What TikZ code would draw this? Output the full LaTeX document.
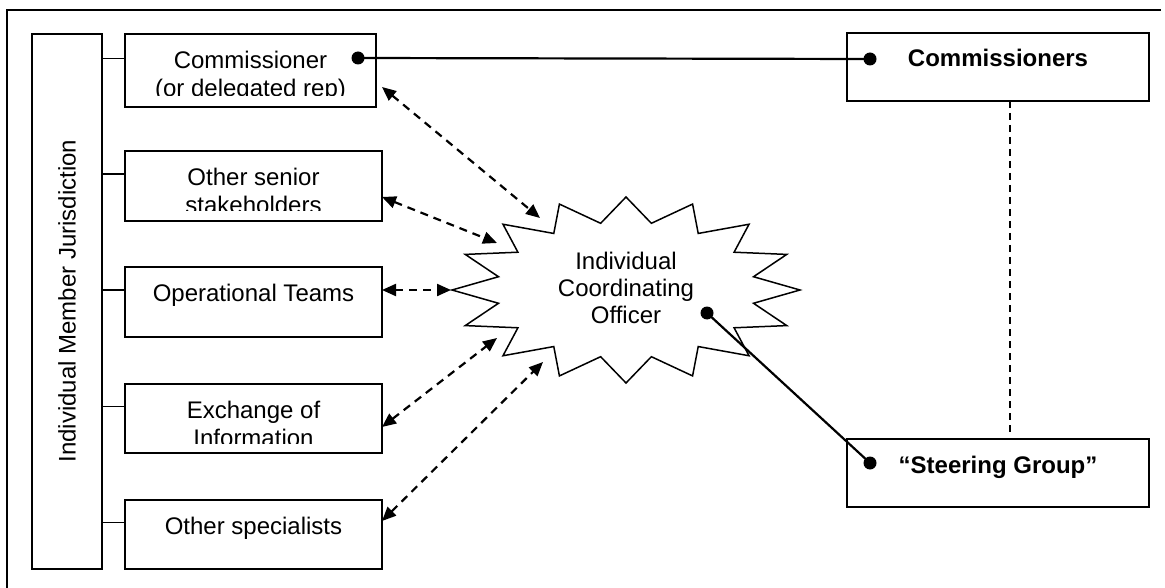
\documentclass[tikz,border=0pt]{standalone}
\usepackage{fontspec}
\setmainfont{Liberation Sans}
\usetikzlibrary{arrows.meta,calc}
\begin{document}
\begin{tikzpicture}[x=1pt,y=-1pt,
  box/.style={draw,line width=1.4pt,inner sep=0pt,outer sep=0pt,anchor=north west},
  lbl/.style={font=\fontsize{24}{28}\selectfont,align=center,inner sep=0pt,anchor=north},
  blbl/.style={font=\fontsize{24}{28}\selectfont\bfseries,inner sep=0pt,anchor=base},
  stub/.style={line width=1.4pt},
  dot/.style={circle,fill=black,inner sep=0pt,minimum size=13pt},
  solidc/.style={line width=2.2pt},
  dasharrow/.style={line width=2.2pt,dash pattern=on 8pt off 6pt,
    {Triangle[length=14pt,width=12pt]}-{Triangle[length=14pt,width=12pt]}},
  vdash/.style={line width=1.4pt,dash pattern=on 7pt off 5pt},
  starline/.style={line width=1.5pt,fill=white}]
\useasboundingbox (0,0) rectangle (1165,588);

% outer frame (top and left)
\coordinate (f1) at (7,588);
\coordinate (f2) at (7,10);
\coordinate (f3) at (1161,10);
\draw[line width=1.5pt] (f1) -- (f2) -- (f3);

% vertical bar
\node[box,minimum width=70pt,minimum height=535pt] (bar) at (32,34) {};
\node[font=\fontsize{24}{28}\selectfont,rotate=90,inner sep=0pt] (barlbl) at (67,301) {Individual Member Jurisdiction};

% left boxes
\node[box,minimum width=251pt,minimum height=73pt] (comm) at (125,34) {};
\node[box,minimum width=257pt,minimum height=70pt] (senior) at (125,151) {};
\node[box,minimum width=257pt,minimum height=70pt] (oper) at (125,267) {};
\node[box,minimum width=257pt,minimum height=69pt] (exch) at (125,384) {};
\node[box,minimum width=257pt,minimum height=69pt] (spec) at (125,500) {};

\begin{scope}
\clip (comm.north west) rectangle ([yshift=11pt]comm.south east);
\node[lbl] (comm-t) at ([yshift=-17pt]comm.north) {Commissioner\\(or delegated rep)};
\end{scope}
\begin{scope}
\clip (senior.north west) rectangle ([yshift=10pt]senior.south east);
\node[lbl] (senior-t) at ([yshift=-17pt]senior.north) {Other senior\\stakeholders};
\end{scope}
\node[lbl] (oper-t) at ([yshift=-17pt]oper.north) {Operational Teams};
\begin{scope}
\clip (exch.north west) rectangle ([yshift=10pt]exch.south east);
\node[lbl] (exch-t) at ([yshift=-17pt]exch.north) {Exchange of\\Information};
\end{scope}
\node[lbl] (spec-t) at ([yshift=-17pt]spec.north) {Other specialists};

% stubs from bar to boxes
\foreach \b in {comm,senior,oper,exch,spec}{
  \coordinate (s-\b) at ([yshift=12pt]\b.west);
  \draw[stub] (s-\b) -- (s-\b -| bar.east);
}

% right boxes
\node[box,minimum width=302pt,minimum height=68pt] (cmrs) at (847,33) {};
\node[blbl] (cmrs-t) at ([yshift=-34pt]cmrs.north) {Commissioners};
\node[box,minimum width=302pt,minimum height=68pt] (steer) at (847,439) {};
\node[blbl] (steer-t) at ([yshift=-34pt]steer.north) {“Steering Group”};

% dashed link between right boxes
\coordinate (v1) at ([xshift=12pt]cmrs.south);
\coordinate (v2) at ([xshift=12pt,yshift=6pt]steer.north);
\draw[vdash] (v1) -- (v2);

% star
\coordinate (starc) at (626,290);
\begin{scope}[shift={(starc)}]
\draw[starline] (174,0) \foreach \i in {0,...,15}{
   -- ({130*cos(\i*22.5+11.25)},{68*sin(\i*22.5+11.25)})
   -- ({174*cos((\i+1)*22.5)},{93*sin((\i+1)*22.5)}) } -- cycle;
\end{scope}
\node[font=\fontsize{24}{27}\selectfont,align=center,inner sep=0pt] (ico) at (626,288) {Individual\\Coordinating\\Officer};

% dashed double arrows
\coordinate (a1) at (382,87);  \coordinate (b1) at (540,218);
\coordinate (a2) at (382,197); \coordinate (b2) at (497,243);
\coordinate (a3) at (382,290); \coordinate (b3) at (451,290);
\coordinate (a4) at (382,427); \coordinate (b4) at (497,338);
\coordinate (a5) at (382,521); \coordinate (b5) at (543,362);
\foreach \k in {1,...,5}{ \draw[dasharrow] (a\k) -- (b\k); }

% solid connectors with dots
\node[dot] (d1) at (358,58) {};
\node[dot] (d2) at (870,59) {};
\node[dot] (d3) at (707,313) {};
\node[dot] (d4) at (870,463) {};
\draw[solidc] (d1.center) -- (d2.center);
\draw[solidc] (d3.center) -- (d4.center);
\end{tikzpicture}
\end{document}
